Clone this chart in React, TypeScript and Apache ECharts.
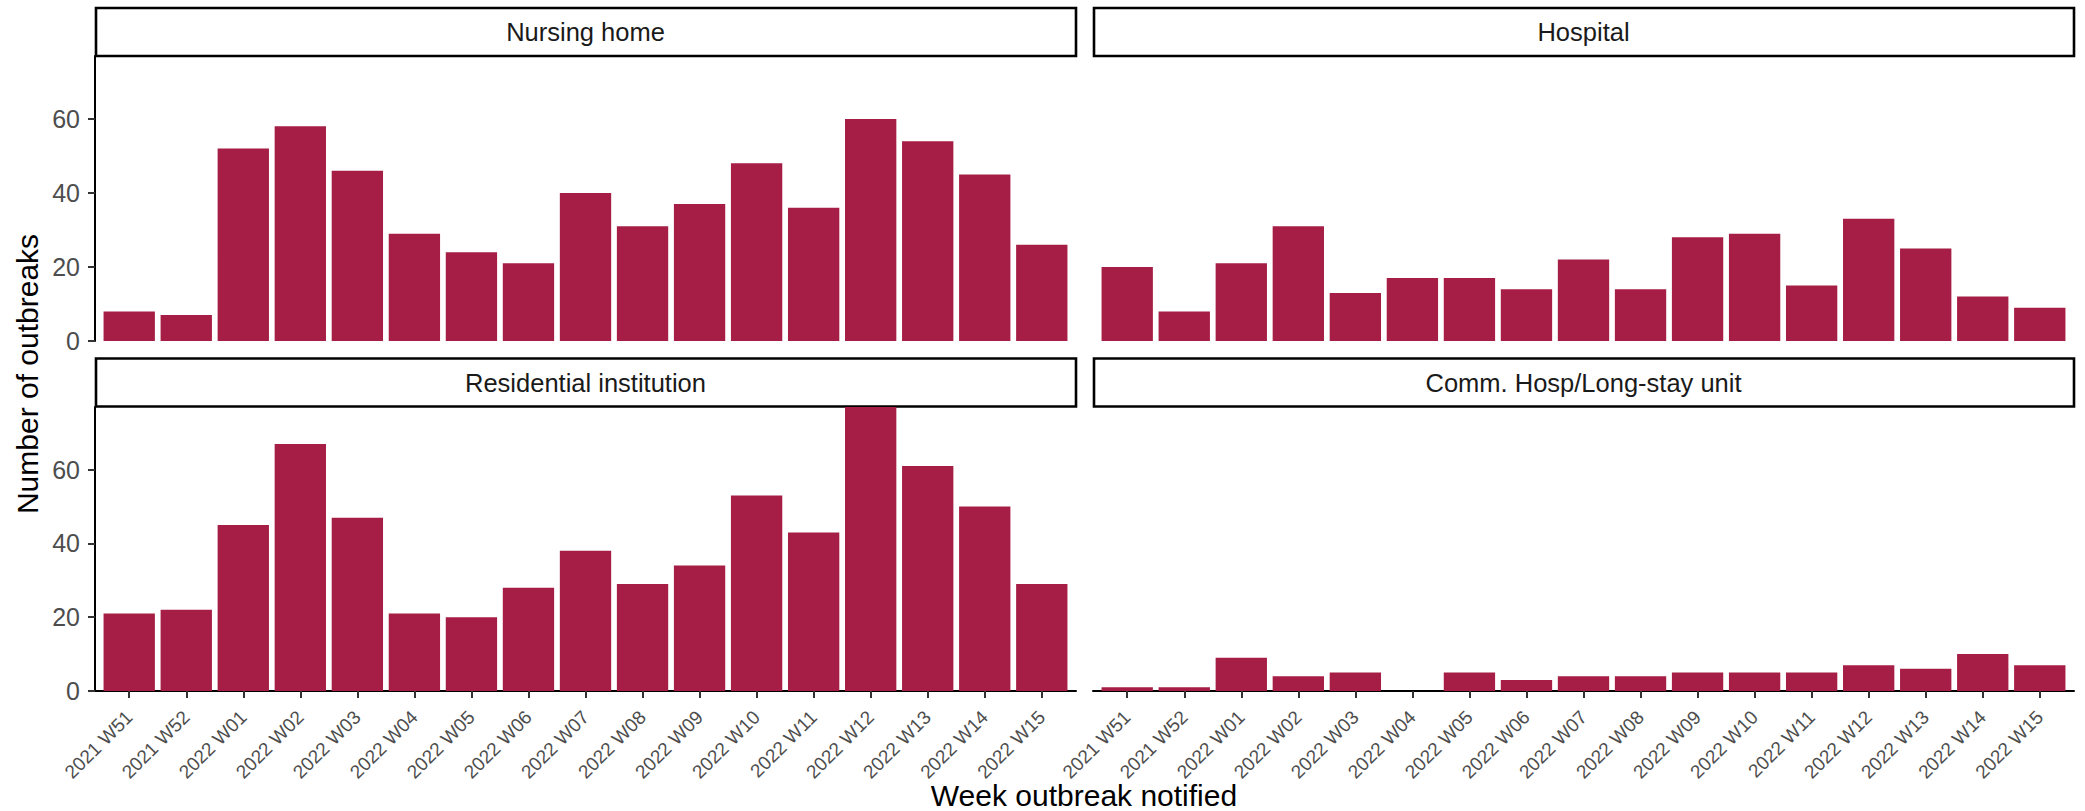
import React, { useEffect, useRef } from "react";
import * as echarts from "echarts";

const weeks = [
  "2021 W51", "2021 W52", "2022 W01", "2022 W02", "2022 W03", "2022 W04",
  "2022 W05", "2022 W06", "2022 W07", "2022 W08", "2022 W09", "2022 W10",
  "2022 W11", "2022 W12", "2022 W13", "2022 W14", "2022 W15",
];
const nursingHome = [8, 7, 52, 58, 46, 29, 24, 21, 40, 31, 37, 48, 36, 60, 54, 45, 26];
const hospital = [20, 8, 21, 31, 13, 17, 17, 14, 22, 14, 28, 29, 15, 33, 25, 12, 9];
const residential = [21, 22, 45, 67, 47, 21, 20, 28, 38, 29, 34, 53, 43, 77, 61, 50, 29];
const commHosp = [1, 1, 9, 4, 5, 0, 5, 3, 4, 4, 5, 5, 5, 7, 6, 10, 7];
const facetNames = ["Nursing home", "Hospital", "Residential institution", "Comm. Hosp/Long-stay unit"];
const facetValues = [nursingHome, hospital, residential, commHosp];
const yTicks = [0, 20, 40, 60];
const yMax = 77;
const xTitle = "Week outbreak notified";
const yTitle = "Number of outbreaks";

const FONT = "'Liberation Sans', Arial, Helvetica, sans-serif";
const BAR = "#A61E45";

export default function App() {
  const ref = useRef<HTMLDivElement>(null);
  useEffect(() => {
    document.body.style.margin = "0";
    if (!ref.current) return;
    const chart = echarts.init(ref.current, undefined, { renderer: "svg" });

    const panelW = 981;
    const panels = [
      { left: 95, top: 56, height: 285, stripTop: 8 },
      { left: 1093, top: 56, height: 285, stripTop: 8 },
      { left: 95, top: 407, height: 284, stripTop: 358.5 },
      { left: 1093, top: 407, height: 284, stripTop: 358.5 },
    ];
    const xIdx = weeks.map((_, i) => i);
    const barWidth = (0.9 * panelW) / 17.2;

    const grid = panels.map((p) => ({ left: p.left, top: p.top, width: panelW, height: p.height, containLabel: false }));
    const xAxis = panels.map((p, i) => {
      const bottom = i >= 2;
      return {
        type: "value",
        gridIndex: i,
        min: -0.6,
        max: 16.6,
        splitLine: { show: false },
        axisLine: { show: bottom, onZero: false, lineStyle: { color: "#000", width: 2 } },
        axisTick: { show: bottom, customValues: xIdx, length: 7, lineStyle: { color: "#333", width: 2 } },
        axisLabel: {
          show: bottom,
          customValues: xIdx,
          formatter: (v: number) => weeks[Math.round(v)] ?? "",
          rotate: 45,
          margin: 23,
          padding: [30, 0, 0, 0],
          fontSize: 19,
          fontFamily: FONT,
          color: "#4D4D4D",
        },
      };
    });
    const yAxis = panels.map((p, i) => {
      const left = i % 2 === 0;
      return {
        type: "value",
        gridIndex: i,
        min: 0,
        max: yMax,
        splitLine: { show: false },
        axisLine: { show: left, onZero: false, lineStyle: { color: "#000", width: 2 } },
        axisTick: { show: left, customValues: yTicks, length: 7, lineStyle: { color: "#333", width: 2 } },
        axisLabel: {
          show: left,
          customValues: yTicks,
          margin: 15,
          fontSize: 25,
          fontFamily: FONT,
          color: "#4D4D4D",
        },
      };
    });
    const series = facetValues.map((vals, i) => ({
      type: "bar",
      name: facetNames[i],
      xAxisIndex: i,
      yAxisIndex: i,
      barWidth,
      data: vals.map((v, k) => [k, v]),
      itemStyle: { color: BAR },
      silent: true,
    }));

    const graphic: any[] = [];
    panels.forEach((p, i) => {
      graphic.push({
        type: "rect",
        shape: { x: p.left + 1, y: p.stripTop, width: panelW - 1, height: 48 },
        style: { fill: "#fff", stroke: "#000", lineWidth: 2.6 },
        silent: true,
      });
      graphic.push({
        type: "text",
        x: p.left + panelW / 2,
        y: p.stripTop + 24,
        style: {
          text: facetNames[i],
          fill: "#1A1A1A",
          fontSize: 25.5,
          fontFamily: FONT,
          align: "center",
          verticalAlign: "middle",
        },
        silent: true,
      });
    });
    graphic.push({
      type: "text",
      x: 1084,
      y: 795,
      style: { text: xTitle, fill: "#000", fontSize: 30, fontFamily: FONT, align: "center", verticalAlign: "middle" },
      silent: true,
    });
    graphic.push({
      type: "text",
      x: 27,
      y: 374,
      rotation: Math.PI / 2,
      style: { text: yTitle, fill: "#000", fontSize: 30, fontFamily: FONT, align: "center", verticalAlign: "middle" },
      silent: true,
    });

    chart.setOption({
      animation: false,
      backgroundColor: "#fff",
      grid,
      xAxis,
      yAxis,
      series,
      graphic,
    } as any);
    return () => chart.dispose();
  }, []);
  return <div ref={ref} style={{ width: 2085, height: 811 }} />;
}
